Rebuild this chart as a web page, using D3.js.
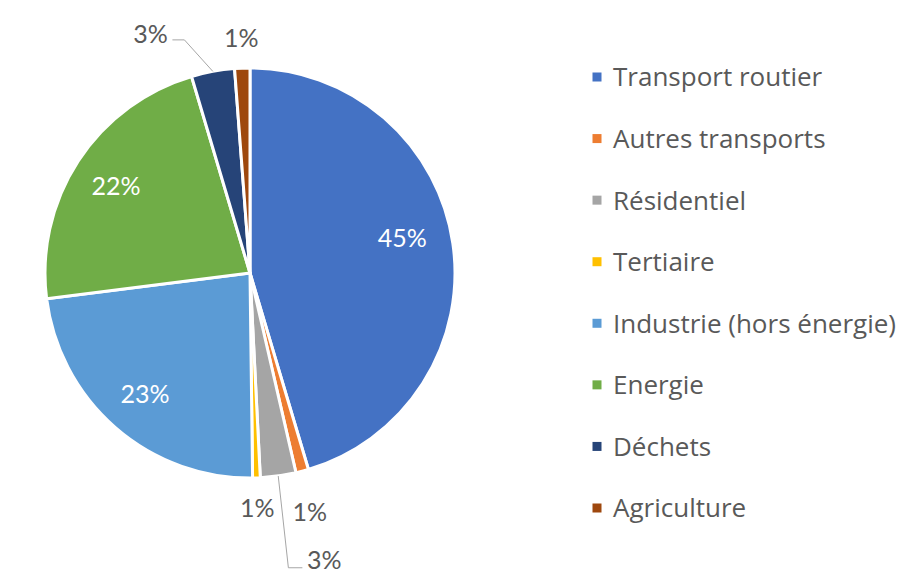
<!DOCTYPE html>
<meta charset="utf-8">
<title>Emissions par secteur</title>
<html>
<style>
body { margin: 0; background: #fff; }
svg { font-family: Lato, "Open Sans", sans-serif; }
</style>
<body>
<svg width="907" height="576"></svg>
<script src="https://d3js.org/d3.v7.min.js"></script>
<script>
// data (percent of total)
var sectors = ["Transport routier", "Autres transports", "Résidentiel", "Tertiaire",
  "Industrie (hors énergie)", "Energie", "Déchets", "Agriculture"];
var shares = [45.4, 1.0, 2.8, 0.6, 23.2, 22.4, 3.4, 1.2];
var colors = ["#4472C4", "#ED7D31", "#A5A5A5", "#FFC000", "#5B9BD5", "#70AD47", "#264478", "#9E480E"];

// label layout: inside labels sit on the centroid ring, small slices go outside
var labelPlace = ["in", "out", "out", "out", "in", "in", "out", "out"];
// extra shift (px) of a few labels, as Excel moved them apart
var labelShift = [[-6, -12], [0, 12], [42, 54], [0, 0], [0, 0], [0, 0], [-57, -8], [0, 0]];
var leader = [false, false, true, false, false, false, true, false];

var svg = d3.select("svg"),
  cx = 250, cy = 273, radius = 205;

var rows = sectors.map(function(s, i) {
  return {name: s, value: shares[i], color: colors[i], i: i};
});

var pie = d3.pie().sort(null).value(function(d) { return d.value; });
var arcs = pie(rows);

var arc = d3.arc().innerRadius(0).outerRadius(radius);
var inArc = d3.arc().innerRadius(160).outerRadius(160);
var outArc = d3.arc().innerRadius(235).outerRadius(235);
var edgeArc = d3.arc().innerRadius(radius).outerRadius(radius);

var g = svg.append("g").attr("transform", "translate(" + cx + "," + cy + ")");

g.selectAll("path.slice")
  .data(arcs)
  .enter().append("path")
    .attr("class", "slice")
    .attr("d", arc)
    .attr("fill", function(d) { return d.data.color; })
    .attr("stroke", "#fff")
    .attr("stroke-width", 3)
    .attr("stroke-linejoin", "round");

function labelPos(d) {
  var i = d.data.i;
  var p = labelPlace[i] == "in" ? inArc.centroid(d) : outArc.centroid(d);
  return [p[0] + labelShift[i][0], p[1] + labelShift[i][1]];
}

// leader lines for the labels that were pushed away
g.selectAll("polyline.leader")
  .data(arcs.filter(function(d) { return leader[d.data.i]; }))
  .enter().append("polyline")
    .attr("class", "leader")
    .attr("fill", "none")
    .attr("stroke", "#A6A6A6")
    .attr("stroke-width", 1)
    .attr("points", function(d) {
      var a = edgeArc.centroid(d), p = labelPos(d);
      var right = p[0] < 0;   // label left of centre: line leaves from its right side
      var xEnd = right ? p[0] + 22 : p[0] - 22;
      var xElbow = right ? p[0] + 34 : p[0] - 36;
      var yl = right ? p[1] + 6 : p[1] + 8;
      return [a, [xElbow, yl], [xEnd, yl]].map(function(q) { return q.join(","); }).join(" ");
    });

g.selectAll("text.pct")
  .data(arcs)
  .enter().append("text")
    .attr("class", "pct")
    .attr("transform", function(d) { return "translate(" + labelPos(d) + ")"; })
    .attr("text-anchor", "middle")
    .attr("dy", "0.36em")
    .attr("font-size", 25)
    .attr("fill", function(d) { return labelPlace[d.data.i] == "in" ? "#fff" : "#595959"; })
    .text(function(d) { return d3.format(".0f")(d.data.value) + "%"; });

// legend
var ly = d3.scalePoint().domain(sectors).range([77, 508]);

var legend = svg.append("g")
  .selectAll("g")
  .data(rows)
  .enter().append("g")
    .attr("transform", function(d) { return "translate(597," + ly(d.name) + ")"; });

legend.append("rect")
  .attr("x", -4.5)
  .attr("y", -4.5)
  .attr("width", 9)
  .attr("height", 9)
  .attr("fill", function(d) { return d.color; });

legend.append("text")
  .attr("x", 16)
  .attr("dy", "0.36em")
  .attr("font-family", "'Open Sans', sans-serif")
  .attr("font-size", 26)
  .attr("fill", "#595959")
  .text(function(d) { return d.name; });
</script>
</body>
</html>
